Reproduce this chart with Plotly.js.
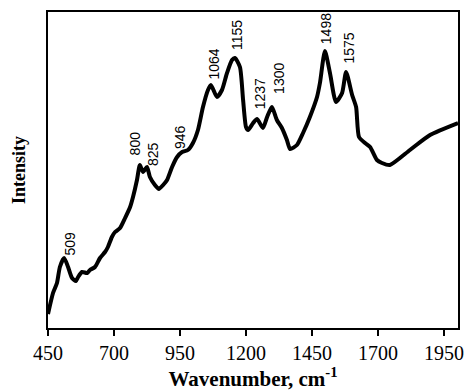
<!DOCTYPE html>
<html>
<head>
<meta charset="utf-8">
<script src="https://cdn.plot.ly/plotly-3.0.1.min.js"></script>
<style>html,body{margin:0;padding:0;background:#fff;}#chart{width:465px;height:391px;}</style>
</head>
<body>
<div id="chart"></div>
<script>
// Wavenumber (cm-1) and relative intensity (arbitrary units)
const wavenumber = [450,469,484,495,511,526,541,556,564,579,598,609,628,647,666,677,692,704,723,742,761,772,787,798,810,825,836,855,870,886,901,920,939,958,980,999,1018,1037,1056,1067,1090,1109,1128,1147,1158,1177,1189,1200,1208,1227,1242,1264,1280,1298,1317,1336,1355,1367,1393,1416,1442,1469,1480,1499,1518,1541,1564,1579,1602,1617,1628,1651,1670,1696,1715,1745,1821,1897,2003];
const intensity = [14,35,45,61,70,61,50,47,51,56,55,58,61,70,76,81,91,96,100,110,121,131,148,163,156,161,151,143,139,143,148,161,171,176,178,185,198,221,238,243,231,238,255,268,270,261,228,201,198,205,209,200,211,221,208,200,188,179,183,195,211,231,245,277,255,226,235,256,233,221,191,185,181,168,165,163,178,193,205];

// Peak labels
const peakLabels = ['509','800','825','946','1064','1155','1237','1300','1498','1575'];
const peakWavenumbers = [509,800,825,946,1064,1155,1237,1300,1498,1575];

const xTickVals = [450,700,950,1200,1450,1700,1950];

// label placement offsets (pixels)
const labelXShift = [6,-5,6,1,3,3,4,6,1,3];
const labelYShift = [1,9,0,2,4,7,9,12,6,7];

function localMax(w){
  let m = -Infinity;
  for (let i=0;i<wavenumber.length;i++){
    if (Math.abs(wavenumber[i]-w) <= 12 && intensity[i] > m) m = intensity[i];
  }
  return m;
}

const annotations = peakLabels.map((t,i)=>({
  x: peakWavenumbers[i], y: localMax(peakWavenumbers[i]),
  xref:'x', yref:'y', text:t, showarrow:false, textangle:-90,
  xanchor:'center', yanchor:'bottom',
  xshift: labelXShift[i], yshift: labelYShift[i],
  font:{family:'Liberation Sans', size:14, color:'#000'},
  borderpad:0
}));

const trace = {
  x: wavenumber, y: intensity, type:'scatter', mode:'lines',
  line:{color:'#000', width:4, shape:'spline', smoothing:0.6},
  hoverinfo:'skip'
};

const layout = {
  width:465, height:391,
  margin:{l:48, r:7, t:12, b:63},
  paper_bgcolor:'#fff', plot_bgcolor:'#fff',
  showlegend:false,
  xaxis:{
    range:[450,2003], tickvals:xTickVals, ticktext:xTickVals.map(String),
    ticks:'outside', ticklen:6, tickwidth:2, tickcolor:'#000',
    showline:true, linewidth:2, linecolor:'#000', mirror:true,
    showgrid:false, zeroline:false,
    tickfont:{family:'Liberation Serif', size:20, color:'#000'},
    title:{text:'<b>Wavenumber, cm<sup>-1</sup></b>', standoff:6,
      font:{family:'Liberation Serif', size:21, color:'#000'}}
  },
  yaxis:{
    range:[0,316], showticklabels:false, ticks:'',
    showline:true, linewidth:2, linecolor:'#000', mirror:true,
    showgrid:false, zeroline:false,
    title:{text:'<b>Intensity</b>', standoff:16,
      font:{family:'Liberation Serif', size:18, color:'#000'}}
  },
  annotations: annotations
};

Plotly.newPlot('chart', [trace], layout, {displayModeBar:false, staticPlot:true});
</script>
</body>
</html>
